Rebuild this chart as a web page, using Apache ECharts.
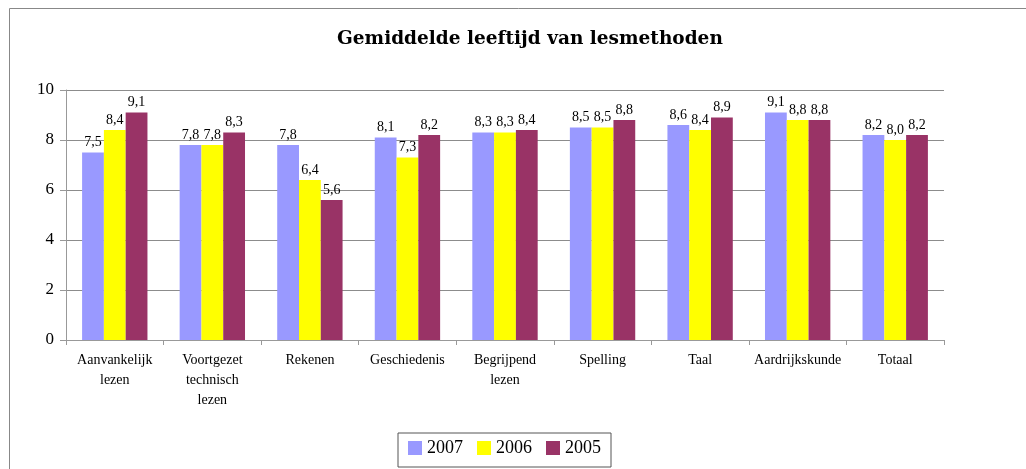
<!DOCTYPE html>
<html>
<head>
<meta charset="utf-8">
<script src="https://cdn.jsdelivr.net/npm/echarts@6/dist/echarts.min.js"></script>
<style>
    html, body { margin: 0; padding: 0; background: #fff; }
    #chart { width: 1026px; height: 469px; }
</style>
</head>
<body>
<div id="chart"></div>
<script>
    var categories = ['Aanvankelijk\nlezen', 'Voortgezet\ntechnisch\nlezen', 'Rekenen', 'Geschiedenis',
        'Begrijpend\nlezen', 'Spelling', 'Taal', 'Aardrijkskunde', 'Totaal'];
    var years = ['2007', '2006', '2005'];
    var values2007 = [7.5, 7.8, 7.8, 8.1, 8.3, 8.5, 8.6, 9.1, 8.2];
    var values2006 = [8.4, 7.8, 6.4, 7.3, 8.3, 8.5, 8.4, 8.8, 8.0];
    var values2005 = [9.1, 8.3, 5.6, 8.2, 8.4, 8.8, 8.9, 8.8, 8.2];
    var colors = ['#9999FF', '#FFFF00', '#993366'];

    var serif = '"Liberation Serif", "DejaVu Serif", serif';

    function barSeries(name, data, color) {
        return {
            name: name,
            type: 'bar',
            data: data,
            barGap: '0%',
            barCategoryGap: '33%',
            itemStyle: { color: color },
            label: {
                show: true,
                position: 'top',
                distance: 3,
                color: '#000',
                fontFamily: serif,
                fontSize: 14,
                formatter: function (p) {
                    return p.value.toFixed(1).replace('.', ',');
                }
            }
        };
    }

    var chart = echarts.init(document.getElementById('chart'));
    chart.setOption({
        animation: false,
        backgroundColor: '#fff',
        color: colors,
        title: {
            text: 'Gemiddelde leeftijd van lesmethoden',
            left: 332,
            top: 25,
            textStyle: {
                fontFamily: '"DejaVu Serif", serif',
                fontSize: 18.5,
                fontWeight: 'bold',
                color: '#000'
            }
        },
        graphic: [{
            type: 'rect',
            shape: { x: 9.5, y: 8.5, width: 1100, height: 600 },
            style: { fill: 'none', stroke: '#888', lineWidth: 1 },
            silent: true
        }],
        legend: {
            data: years,
            left: 398,
            top: 433,
            padding: [6, 10, 10, 10],
            borderColor: '#555',
            borderWidth: 1,
            itemWidth: 14,
            itemHeight: 14,
            itemGap: 14,
            icon: 'rect',
            textStyle: {
                fontFamily: serif,
                fontSize: 18,
                color: '#000'
            }
        },
        grid: {
            left: 66,
            right: 82,
            top: 90,
            bottom: 129,
            containLabel: false
        },
        xAxis: {
            type: 'category',
            data: categories,
            axisLine: { lineStyle: { color: '#999' } },
            axisTick: { show: true, length: 5, lineStyle: { color: '#999' } },
            axisLabel: {
                color: '#000',
                fontFamily: serif,
                fontSize: 14,
                lineHeight: 20,
                margin: 10,
                interval: 0
            }
        },
        yAxis: {
            type: 'value',
            min: 0,
            max: 10,
            interval: 2,
            axisLine: { show: true, lineStyle: { color: '#999' } },
            axisTick: { show: true, length: 6, lineStyle: { color: '#999' } },
            axisLabel: {
                color: '#000',
                fontFamily: serif,
                fontSize: 17,
                margin: 12
            },
            splitLine: { lineStyle: { color: '#8c8c8c', width: 1 } }
        },
        series: [
            barSeries(years[0], values2007, colors[0]),
            barSeries(years[1], values2006, colors[1]),
            barSeries(years[2], values2005, colors[2])
        ]
    });
</script>
</body>
</html>
